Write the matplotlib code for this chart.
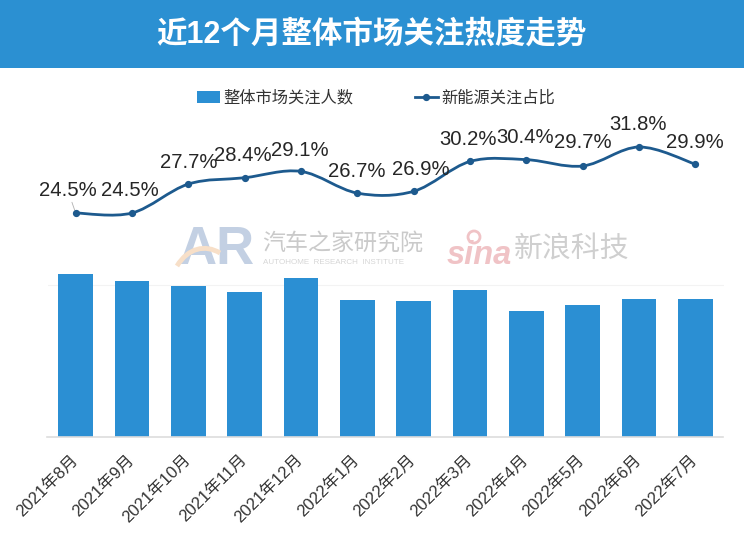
import matplotlib
matplotlib.use('Agg')
import matplotlib.pyplot as plt
from matplotlib.patches import Rectangle, PathPatch, Circle
from matplotlib.path import Path
from matplotlib.transforms import ScaledTranslation

plt.rcParams['font.family'] = ['Liberation Sans', 'Noto Sans CJK SC']

months = ['2021年8月', '2021年9月', '2021年10月', '2021年11月', '2021年12月', '2022年1月',
          '2022年2月', '2022年3月', '2022年4月', '2022年5月', '2022年6月', '2022年7月']
# no axis on the bars in the original, so these are relative heights
attention = [163, 156, 151, 145, 159, 137, 136, 147, 126, 132, 138, 138]
ev_share = [24.5, 24.5, 27.7, 28.4, 29.1, 26.7, 26.9, 30.2, 30.4, 29.7, 31.8, 29.9]

# where each percent label sits from its point, in pixels
label_dx = [-8, -2, 0, -2, -1, -1, 7, -2, -1, 0, -1, 0]
label_dy = [23, 23, 22, 22, 21, 22, 22, 22, 22, 23, 23, 22]

BAR = '#2b8fd3'
LINE = '#1d5a8e'
W, H = 744, 550

def fx(x):
    return x / W

def fy(y):
    return 1 - y / H

def smooth_path(xs, ys):
    # same kind of smoothing as the office chart line
    verts = [(xs[0], ys[0])]
    codes = [Path.MOVETO]
    n = len(xs)
    for i in range(n - 1):
        x0, y0 = xs[max(i - 1, 0)], ys[max(i - 1, 0)]
        x3, y3 = xs[min(i + 2, n - 1)], ys[min(i + 2, n - 1)]
        verts.append((xs[i] + (xs[i + 1] - x0) / 6, ys[i] + (ys[i + 1] - y0) / 6))
        verts.append((xs[i + 1] - (x3 - xs[i]) / 6, ys[i + 1] - (y3 - ys[i]) / 6))
        verts.append((xs[i + 1], ys[i + 1]))
        codes += [Path.CURVE4] * 3
    return Path(verts, codes)

fig = plt.figure(figsize=(W / 100, H / 100), dpi=100)

# header
fig.patches.append(Rectangle((0, fy(68)), 1, 68 / H, transform=fig.transFigure, color='#2b90d2', lw=0))
fig.text(fx(371), fy(35), '近12个月整体市场关注热度走势', color='white', fontsize=22,
         fontweight='bold', ha='center', va='center')

# plot area
ax = fig.add_axes([fx(47.5), fy(437), 676 / W, 337 / H])
x = list(range(len(months)))
bars = ax.bar(x, attention, width=0.62, color=BAR, label='整体市场关注人数', zorder=2)
ax.set_xlim(-0.5, 11.5)
ax.set_ylim(0, 337)
ax.set_yticks([])
ax.set_xticks(x)
ax.set_xticklabels(months, rotation=45, ha='right', va='top', rotation_mode='anchor',
                   fontsize=12, color='#333333')
ax.tick_params(axis='x', length=0, pad=13)
shift = ScaledTranslation(-6 / 100, 3 / 100, fig.dpi_scale_trans)
for lab in ax.get_xticklabels():
    lab.set_transform(lab.get_transform() + shift)
for s in ['top', 'left', 'right']:
    ax.spines[s].set_visible(False)
ax.spines['bottom'].set_color('#dddddd')
ax.spines['bottom'].set_linewidth(1.2)
ax.axhline(152, color='#f3f3f3', lw=0.8, zorder=1)

ax2 = ax.twinx()
ax2.set_ylim(24.5 - 224 / 9.04, 24.5 + 113 / 9.04)
ax2.set_yticks([])
for s in ax2.spines.values():
    s.set_visible(False)
ax2.add_patch(PathPatch(smooth_path(x, ev_share), fill=False, ec=LINE, lw=2, zorder=3))
line, = ax2.plot(x, ev_share, ls='none', marker='o', ms=4.2, color=LINE, zorder=4)
for i, v in enumerate(ev_share):
    # only the first label has a leader line
    arrow = dict(arrowstyle='-', color='#b0b0b0', lw=0.6, shrinkA=9, shrinkB=2) if i == 0 else None
    ax2.annotate(f'{v}%', (i, v), xytext=(label_dx[i], label_dy[i]), textcoords='offset pixels',
                 ha='center', va='center', fontsize=14.6, color='#262626', arrowprops=arrow)

# legend
legend_line, = ax2.plot([], [], color=LINE, lw=2, marker='o', ms=4.2, label='新能源关注占比')
fig.legend(handles=[bars, legend_line], loc='center', bbox_to_anchor=(fx(376), fy(98)), ncol=2,
           frameon=False, fontsize=11.7, columnspacing=3.8, handlelength=1.4, handletextpad=0.2,
           labelcolor='#333333')

# watermarks
wm = fig.add_axes([0, 0, 1, 1], facecolor='none')
wm.set_xlim(0, W)
wm.set_ylim(H, 0)
wm.axis('off')
wm.text(217, 250, 'AR', fontsize=38, fontweight='bold', color='#c3d0e3', ha='center', va='center')
arc = Path([(177, 266), (188, 248), (205, 244), (220, 253)], [Path.MOVETO] + [Path.CURVE4] * 3)
wm.add_patch(PathPatch(arc, fill=False, ec='#f7dfc8', lw=3.5, zorder=5))
wm.text(262, 244, '汽车之家研究院', fontsize=16.6, color='#cacaca', va='center')
wm.text(263, 263, 'AUTOHOME  RESEARCH  INSTITUTE', fontsize=5.8, color='#d6d6d6', va='center')
wm.text(447, 255, 'sina', fontsize=23.5, fontweight='bold', style='italic', color='#f0c3c6', va='center')
wm.add_patch(Circle((474, 237), 6, fill=False, ec='#f0c3c6', lw=2))
wm.text(514, 249, '新浪科技', fontsize=20.8, style='italic', color='#cfcfcf', va='center')

fig.savefig('out.png', dpi=100)
